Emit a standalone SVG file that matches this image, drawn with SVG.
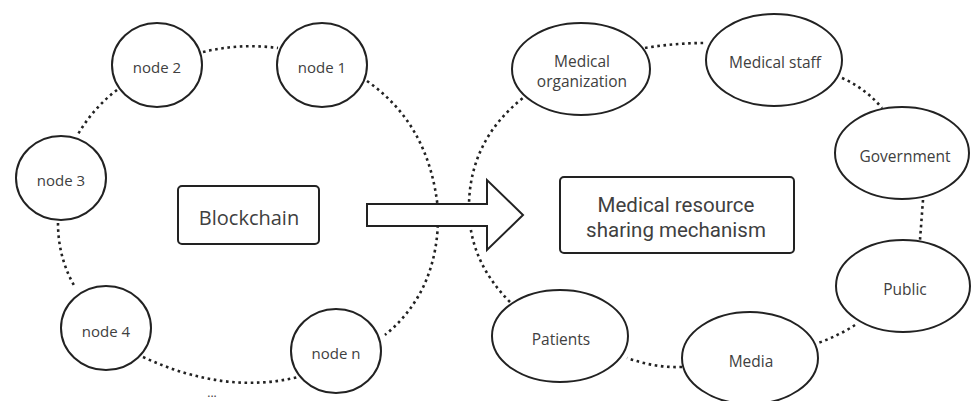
<svg xmlns="http://www.w3.org/2000/svg" width="971" height="401" viewBox="0 0 971 401">
<style>
.n{fill:#fff;stroke:#222;stroke-width:2}
.t{font-family:"Open Sans","Noto Sans","Liberation Sans",sans-serif;fill:#404040;text-anchor:middle}
.r{font-family:Roboto,"Liberation Sans",sans-serif;font-size:20.5px}
.s{font-size:15px}
.m{font-size:15.5px}
.d{fill:none;stroke:#222;stroke-width:2.6;stroke-dasharray:2.6 3.6}
</style>
<rect width="971" height="401" fill="#fff"/>
<g id="connectors">
<path class="d" d="M203,52 Q240,43 278,48"/>
<path class="d" d="M367,81 Q430,125 438,210 Q440,290 385,335"/>
<path class="d" d="M117,90 Q93,108 77,136"/>
<path class="d" d="M58,223 Q58,258 75,287"/>
<path class="d" d="M143,357 Q225,395 298,377"/>
<path class="d" d="M645,48 Q675,43 705,43"/>
<path class="d" d="M842,78 Q865,88 882,108"/>
<path class="d" d="M923,200 L920,240"/>
<path class="d" d="M855,325 Q838,336 818,343"/>
<path class="d" d="M682,367 Q655,368 627,358"/>
<path class="d" d="M510,302 Q468,260 469,205 Q470,140 523,98"/>
</g>
<g id="arrow">
<polygon class="n" points="367,204 487,204 487,180 523,215 487,250 487,226 367,226"/>
</g>
<g id="node1"><ellipse class="n" cx="322" cy="65" rx="45" ry="42"/><text class="t s" x="322" y="73">node 1</text></g>
<g id="node2"><ellipse class="n" cx="157" cy="65" rx="45" ry="42"/><text class="t s" x="157" y="73">node 2</text></g>
<g id="node3"><ellipse class="n" cx="61" cy="178" rx="45" ry="42"/><text class="t s" x="61" y="186">node 3</text></g>
<g id="node4"><ellipse class="n" cx="106" cy="328" rx="45" ry="42"/><text class="t s" x="106" y="337">node 4</text></g>
<g id="noden"><ellipse class="n" cx="336" cy="351" rx="45" ry="42"/><text class="t s" x="336" y="359">node n</text></g>
<g id="ellipsis"><text class="t" style="font-size:12px" x="212" y="397">...</text></g>
<g id="blockchain"><rect class="n" x="178" y="186" width="141" height="58" rx="4"/><text class="t" style="font-size:20px" x="249" y="225">Blockchain</text></g>
<g id="mechanism"><rect class="n" x="560" y="177" width="234" height="76" rx="4"/><text class="t r" x="676" y="212">Medical resource</text><text class="t r" x="676" y="236.5">sharing mechanism</text></g>
<g id="medorg"><ellipse class="n" cx="581" cy="69" rx="69" ry="46"/><text class="t m" x="582" y="67">Medical<tspan x="582" dy="20">organization</tspan></text></g>
<g id="medstaff"><ellipse class="n" cx="774" cy="60" rx="68" ry="46"/><text class="t m" x="775" y="68">Medical staff</text></g>
<g id="government"><ellipse class="n" cx="902" cy="153" rx="67" ry="46"/><text class="t m" x="905" y="162">Government</text></g>
<g id="public"><ellipse class="n" cx="903" cy="286" rx="67" ry="46"/><text class="t m" x="905" y="295">Public</text></g>
<g id="media"><ellipse class="n" cx="750" cy="358" rx="68" ry="46"/><text class="t m" x="751" y="367">Media</text></g>
<g id="patients"><ellipse class="n" cx="560" cy="336" rx="68" ry="46"/><text class="t m" x="561" y="345">Patients</text></g>
</svg>
